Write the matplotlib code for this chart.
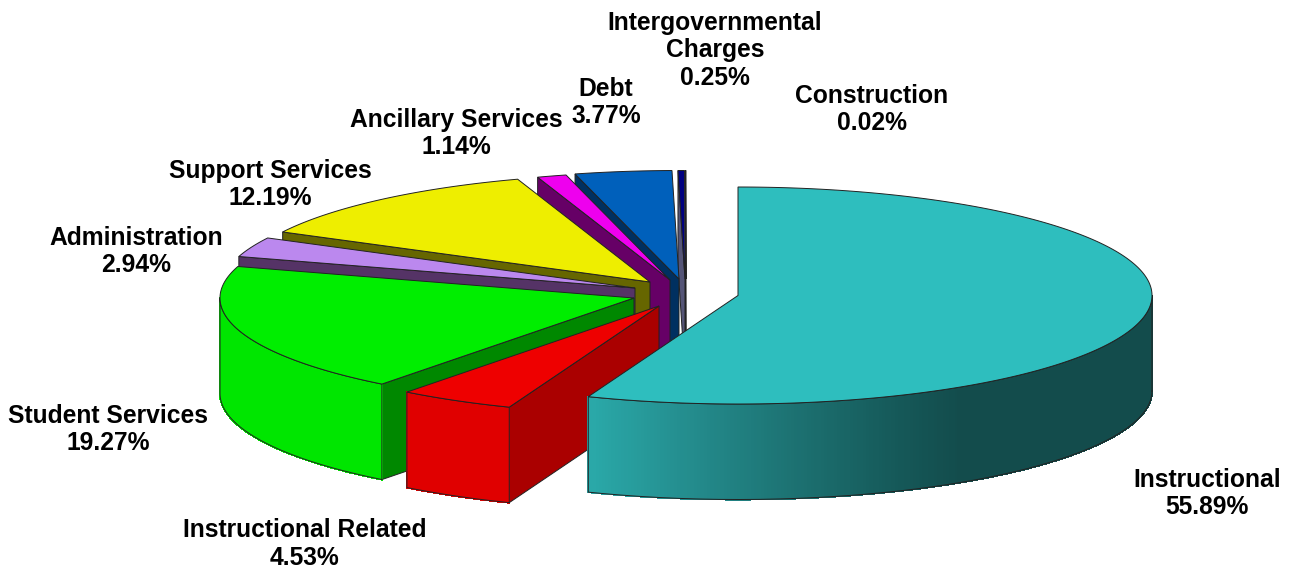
import numpy as np
import matplotlib
matplotlib.use("Agg")
import matplotlib.pyplot as plt
from matplotlib.collections import PolyCollection
from matplotlib.colors import to_rgb

categories = ["Instructional", "Instructional Related", "Student Services", "Administration",
              "Support Services", "Ancillary Services", "Debt",
              "Intergovernmental\nCharges", "Construction"]
values = [55.89, 4.53, 19.27, 2.94, 12.19, 1.14, 3.77, 0.25, 0.02]

# styles
top_colors = ["#2EBEBE", "#EE0000", "#00EE00", "#BB88EE", "#EEEE00", "#EE00EE", "#0060BB", "#000080", "#808090"]
radial_colors = ["#1C6F6F", "#AA0000", "#008800", "#553366", "#666600", "#660066", "#003060", "#555577", "#808090"]
arc_colors = ["#2EBEBE", "#E00000", "#00E600", "#9966CC", "#CCCC00", "#CC00CC", "#0050A0", "#000060", "#808090"]
apex_x = [738, 659, 634, 635, 650, 670, 679, 685, 686]
apex_y = [295.5, 306, 298, 288, 282, 280, 279, 279, 279]
label_x = [1207, 305, 108, 136, 270, 456, 606, 715, 872]
label_y = [493.5, 544, 429.5, 251.5, 184.5, 133.5, 102.5, 50.5, 109.5]
RX, RY, DEPTH = 414, 108.5, 95.5
EDGE = "#222222"
TEAL_X = [588, 700, 800, 900, 960, 1152]
TEAL_RGB = np.array([to_rgb(c) for c in ["#2AA9A9", "#23898A", "#1C7070", "#155858", "#134C4C", "#134C4C"]])

fig = plt.figure(figsize=(12.9, 5.72), dpi=100)
ax = fig.add_axes([0, 0, 1, 1])
ax.set_xlim(0, 1290)
ax.set_ylim(572, 0)
ax.axis("off")


def rim(cx, cy, t):
    return cx + RX * np.sin(t), cy - RY * np.cos(t)


cum = np.concatenate([[0], np.cumsum(values)])
total = cum[-1]
angles = cum / total * 2 * np.pi

for i in range(len(values) - 1, -1, -1):
    a0, a1 = angles[i], angles[i + 1]
    cx, cy = apex_x[i], apex_y[i]
    base_z = i * -10 + 100
    # radial wall on the starting side of the slice
    if np.sin(a0) < -1e-6:
        x0, y0 = rim(cx, cy, a0)
        ax.fill([cx, x0, x0, cx], [cy, y0, y0 + DEPTH, cy + DEPTH],
                fc=radial_colors[i], ec=EDGE, lw=0.7, zorder=base_z)
    # radial wall on the ending side
    if np.sin(a1) > 1e-6:
        x1, y1 = rim(cx, cy, a1)
        ax.fill([cx, x1, x1, cx], [cy, y1, y1 + DEPTH, cy + DEPTH],
                fc=radial_colors[i], ec=EDGE, lw=0.7, zorder=base_z)
    # outer wall, front half only
    lo, hi = max(a0, np.pi / 2), min(a1, 1.5 * np.pi)
    if hi > lo:
        t = np.linspace(lo, hi, 240)
        x, y = rim(cx, cy, t)
        quads = [[(x[k], y[k]), (x[k + 1], y[k + 1]), (x[k + 1], y[k + 1] + DEPTH), (x[k], y[k] + DEPTH)]
                 for k in range(len(t) - 1)]
        if i == 0:
            xm = (x[:-1] + x[1:]) / 2
            cols = np.column_stack([np.interp(xm, TEAL_X, TEAL_RGB[:, c]) for c in range(3)])
        else:
            cols = [arc_colors[i]] * len(quads)
        ax.add_collection(PolyCollection(quads, facecolors=cols, edgecolors=cols, linewidths=0.8,
                                         antialiaseds=False, zorder=base_z + 1))
        ax.plot(np.r_[x, x[::-1], x[0]], np.r_[y + DEPTH, y[::-1], y[0] + DEPTH],
                color=EDGE, lw=0.7, zorder=base_z + 2)
    # top face
    t = np.linspace(a0, a1, max(4, int((a1 - a0) * 120)))
    x, y = rim(cx, cy, t)
    ax.fill(np.r_[cx, x], np.r_[cy, y], fc=top_colors[i], ec=EDGE, lw=0.7, zorder=base_z + 3)

for name, v, lx, ly in zip(categories, values, label_x, label_y):
    ax.text(lx, ly, f"{name}\n{v:.2f}%", ha="center", va="center", fontsize=17.7,
            family="Liberation Sans", fontweight="bold", color="black", linespacing=1.2, zorder=200)

fig.savefig("out.png", dpi=100, facecolor="white")
